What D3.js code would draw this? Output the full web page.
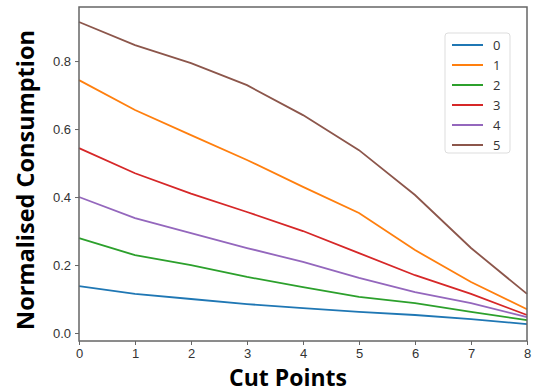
<!DOCTYPE html>
<html lang="en">
<head>
    <meta charset="UTF-8">
    <title>Normalised Consumption vs Cut Points</title>
    <script src="https://d3js.org/d3.v7.min.js"></script>
    <style>
        body {
            margin: 0;
            background: #fff;
            font-family: 'Open Sans', 'DejaVu Sans', sans-serif;
        }
        .axis text {
            font-size: 13px;
            fill: #333;
        }
        .axis path, .axis line {
            stroke: #666;
        }
        .title {
            font-weight: bold;
            fill: #000;
        }
    </style>
</head>
<body>
<div id="chart"></div>
<script>
    const cutPoints = [0, 1, 2, 3, 4, 5, 6, 7, 8];
    const seriesNames = ["0", "1", "2", "3", "4", "5"];
    const s0 = [0.138, 0.115, 0.100, 0.085, 0.073, 0.062, 0.053, 0.041, 0.026];
    const s1 = [0.744, 0.656, 0.582, 0.509, 0.430, 0.353, 0.244, 0.150, 0.070];
    const s2 = [0.279, 0.229, 0.200, 0.165, 0.135, 0.106, 0.088, 0.062, 0.038];
    const s3 = [0.544, 0.470, 0.410, 0.356, 0.300, 0.235, 0.170, 0.115, 0.053];
    const s4 = [0.400, 0.338, 0.294, 0.250, 0.209, 0.162, 0.120, 0.088, 0.047];
    const s5 = [0.915, 0.847, 0.794, 0.729, 0.641, 0.538, 0.406, 0.250, 0.115];
    const yTicks = [0.0, 0.2, 0.4, 0.6, 0.8];
    const colors = ["#1f77b4", "#ff7f0e", "#2ca02c", "#d62728", "#9467bd", "#8c564b"];

    const series = [s0, s1, s2, s3, s4, s5];

    const width = 534, height = 392;
    const margin = { top: 7, right: 7, bottom: 51, left: 79 };
    const w = width - margin.left - margin.right;
    const h = height - margin.top - margin.bottom;

    const svg = d3.select("#chart").append("svg")
        .attr("width", width)
        .attr("height", height);

    const g = svg.append("g")
        .attr("transform", `translate(${margin.left},${margin.top})`);

    const x = d3.scaleLinear().domain([0, 8]).range([0, w]);
    const y = d3.scaleLinear().domain([-0.0235, 0.959]).range([h, 0]);

    // axes
    g.append("g")
        .attr("class", "axis")
        .attr("transform", `translate(0,${h})`)
        .call(d3.axisBottom(x).tickValues(cutPoints).tickFormat(d3.format("d")).tickSize(4).tickPadding(4).tickSizeOuter(0))
        .call(a => a.select(".domain").remove());

    g.append("g")
        .attr("class", "axis")
        .call(d3.axisLeft(y).tickValues(yTicks).tickFormat(d3.format(".1f")).tickSize(4).tickPadding(4).tickSizeOuter(0))
        .call(a => a.select(".domain").remove());

    // lines
    const line = d3.line()
        .x((d, i) => x(cutPoints[i]))
        .y(d => y(d));

    series.forEach((s, i) => {
        g.append("path")
            .datum(s)
            .attr("fill", "none")
            .attr("stroke", colors[i])
            .attr("stroke-width", 1.8)
            .attr("d", line);
    });

    // frame
    g.append("rect")
        .attr("width", w)
        .attr("height", h)
        .attr("fill", "none")
        .attr("stroke", "#666")
        .attr("stroke-width", 1.5);

    // legend
    const legend = g.append("g")
        .attr("transform", `translate(${w - 82},${26})`);

    legend.append("rect")
        .attr("x", 0)
        .attr("y", 0)
        .attr("width", 65)
        .attr("height", 120)
        .attr("rx", 3)
        .attr("fill", "#fff")
        .attr("stroke", "#ddd");

    seriesNames.forEach((name, i) => {
        const item = legend.append("g")
            .attr("transform", `translate(0,${12 + i * 20})`);
        item.append("line")
            .attr("x1", 7).attr("x2", 38)
            .attr("y1", 0).attr("y2", 0)
            .attr("stroke", colors[i])
            .attr("stroke-width", 2);
        item.append("text")
            .attr("x", 48)
            .attr("y", 0)
            .attr("dy", "0.35em")
            .style("font-size", "13px")
            .style("fill", "#333")
            .text(name);
    });

    // axis titles
    svg.append("text")
        .attr("class", "title")
        .attr("x", 288)
        .attr("y", 386)
        .attr("text-anchor", "middle")
        .style("font-size", "23px")
        .text("Cut Points");

    svg.append("text")
        .attr("class", "title")
        .attr("transform", `translate(34,${margin.top + h / 2 + 6}) rotate(-90)`)
        .attr("text-anchor", "middle")
        .style("font-size", "23.5px")
        .text("Normalised Consumption");
</script>
</body>
</html>
